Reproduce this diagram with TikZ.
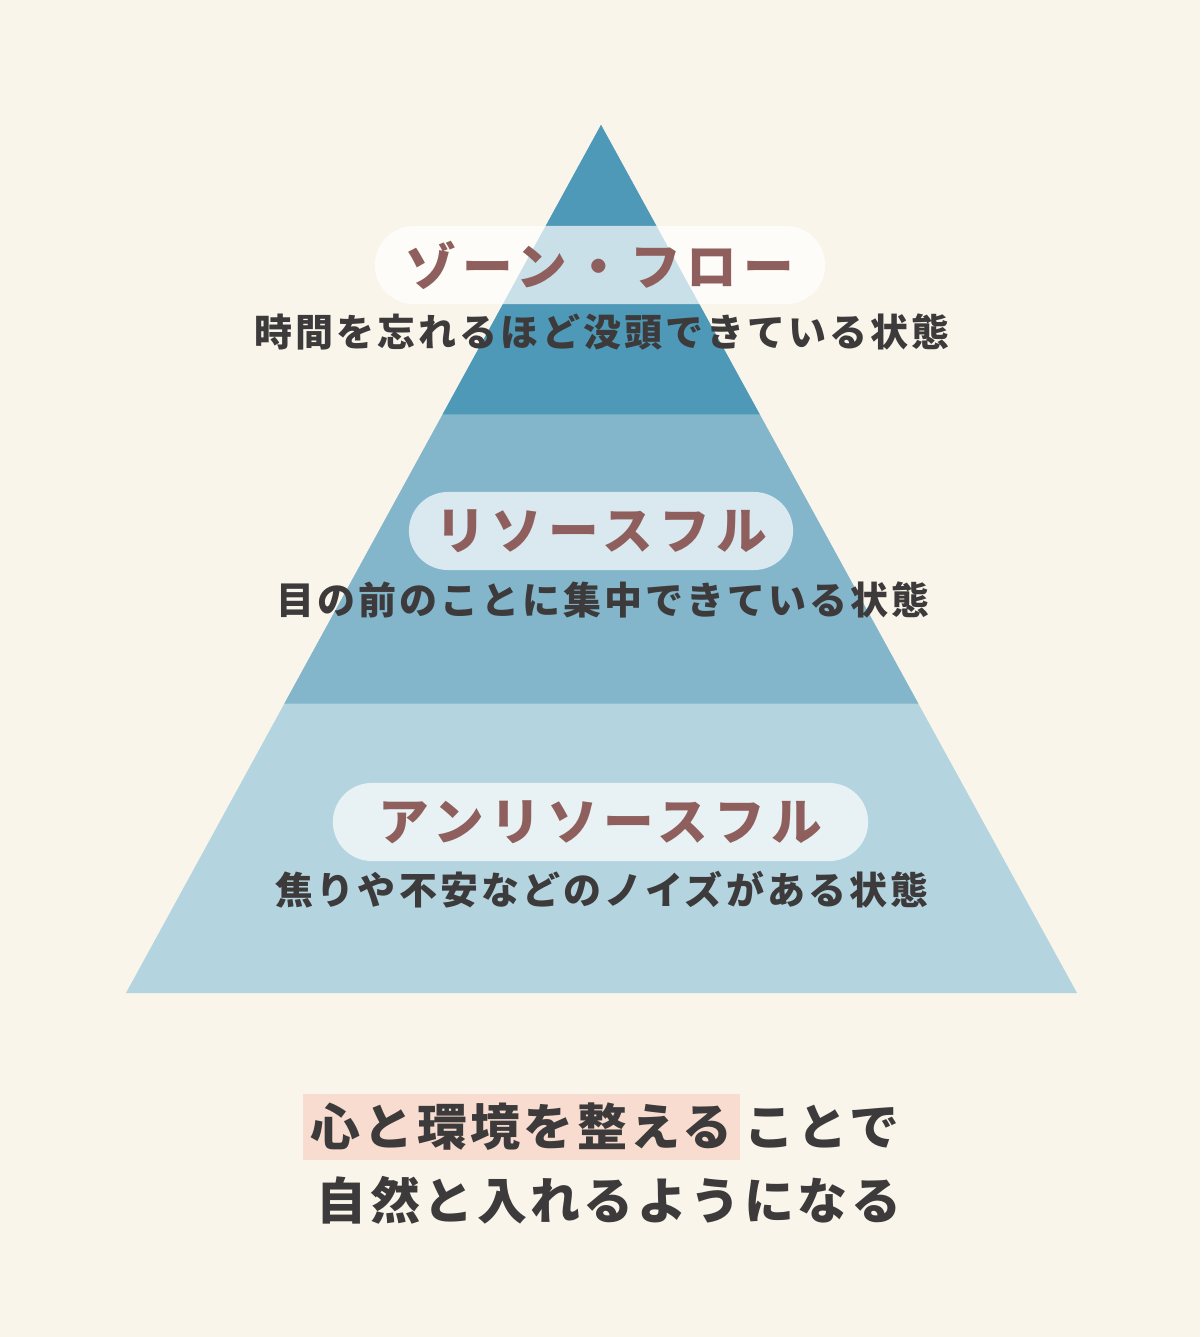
\documentclass[tikz,border=0pt]{standalone}
\usepackage{fontspec}
\newfontfamily\jp{Noto Sans CJK JP}
\usetikzlibrary{positioning, calc}

\definecolor{creambg}{HTML}{FAF5EA}
\definecolor{zoneblue}{HTML}{4E99B8}
\definecolor{resblue}{HTML}{83B5CB}
\definecolor{unresblue}{HTML}{B4D4E0}
\definecolor{titlebrown}{HTML}{8E5F5D}
\definecolor{inkgray}{HTML}{3C3A3A}
\definecolor{markpink}{HTML}{F8DCCF}

\newcommand{\stagetitlefont}{\jp\bfseries\fontsize{14.4pt}{15pt}\selectfont\addfontfeatures{LetterSpace=12}}
\newcommand{\stagenotefont}{\jp\bfseries\fontsize{10.8pt}{12pt}\selectfont\addfontfeatures{LetterSpace=8}}
\newcommand{\closingfont}{\jp\bfseries\fontsize{14.2pt}{15pt}\selectfont\addfontfeatures{LetterSpace=7}}

\tikzset{
  pill/.style={fill=white, fill opacity=0.7, text opacity=1, rounded corners=0.39cm,
    minimum height=0.78cm, inner sep=0pt, text=titlebrown, font=\stagetitlefont},
  stagenote/.style={inner sep=0pt, text=inkgray, font=\stagenotefont},
  closing/.style={inner sep=0pt, text=inkgray, font=\closingfont},
}

\begin{document}
\begin{tikzpicture}[x=0.01cm, y=-0.01cm]
  % background
  \fill[creambg] (0,0) rectangle (1200,1337);
  \useasboundingbox (0,0) rectangle (1200,1337);

  % Pyramid
  \coordinate (apex) at (601,125);
  \coordinate (bl) at (126,993);
  \coordinate (br) at (1077,993);
  \fill[unresblue] (apex) -- (bl) -- (br) -- cycle;
  \fill[resblue] (apex) -- ($(apex)!2/3!(bl)$) -- ($(apex)!2/3!(br)$) -- cycle;
  \fill[zoneblue] (apex) -- ($(apex)!1/3!(bl)$) -- ($(apex)!1/3!(br)$) -- cycle;

  % Zone / flow
  \node[pill, minimum width=4.5cm] (zonepill) at (600,265) {ゾーン・フロー};
  \node[stagenote] (zonenote) at (602,332) {時間を忘れるほど没頭できている状態};

  % Resourceful
  \node[pill, minimum width=3.84cm] (respill) at (601,531) {リソースフル};
  \node[stagenote] (resnote) at (603,600) {目の前のことに集中できている状態};

  % Unresourceful
  \node[pill, minimum width=5.35cm] (unrespill) at (600.5,822) {アンリソースフル};
  \node[stagenote] (unresnote) at (602,890) {焦りや不安などのノイズがある状態};

  % Closing message
  \node[closing, fill=markpink, minimum width=4.37cm, minimum height=0.66cm] (mark) at (521.5,1127) {心と環境を整える};
  \node[closing, anchor=west, xshift=0.03cm] (marktail) at (mark.east) {ことで};
  \node[closing] (closingline) at (609,1200) {自然と入れるようになる};
\end{tikzpicture}
\end{document}
